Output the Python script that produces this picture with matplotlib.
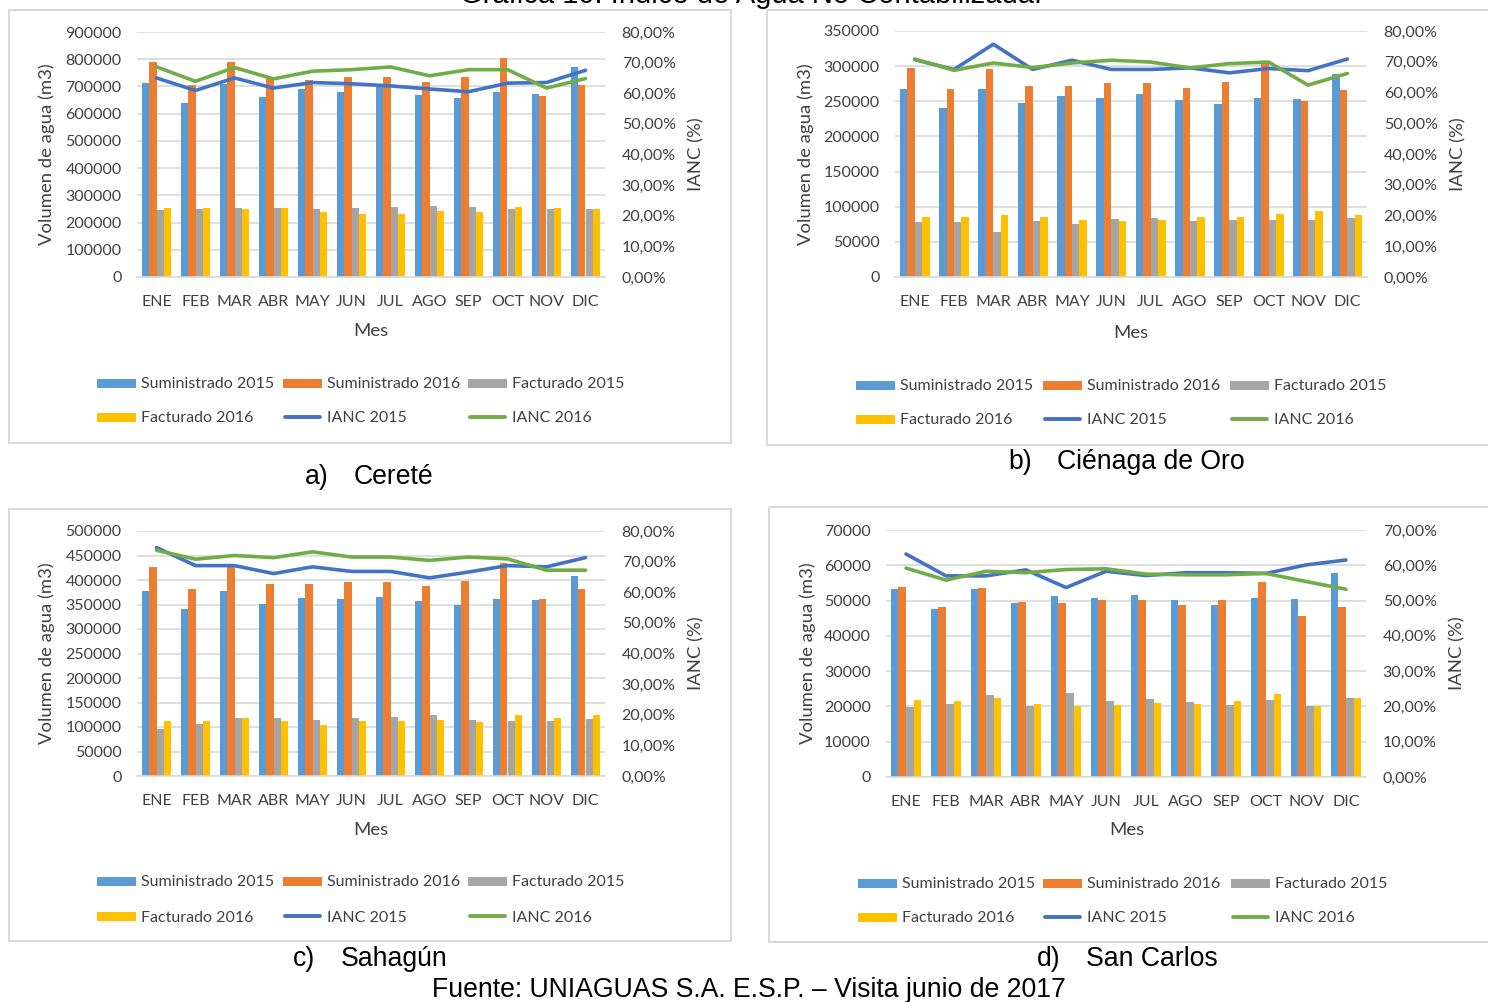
import matplotlib
matplotlib.use("Agg")
import matplotlib.pyplot as plt
from matplotlib.patches import Rectangle
from matplotlib.lines import Line2D
from matplotlib.ticker import MultipleLocator, FuncFormatter
import numpy as np

W, H = 1488, 1002

months = ["ENE", "FEB", "MAR", "ABR", "MAY", "JUN", "JUL", "AGO", "SEP", "OCT", "NOV", "DIC"]
legend_labels = ["Suministrado 2015", "Suministrado 2016", "Facturado 2015",
                 "Facturado 2016", "IANC 2015", "IANC 2016"]

# a) Cereté
cerete_sum_2015 = [712000, 638000, 710000, 660000, 690000, 681000, 697000, 669000, 656000, 678000, 673000, 770000]
cerete_sum_2016 = [788000, 706000, 788000, 727000, 724000, 733000, 734000, 717000, 734000, 805000, 666000, 706000]
cerete_fac_2015 = [245000, 248000, 252000, 255000, 248000, 252000, 258000, 262000, 258000, 250000, 248000, 250000]
cerete_fac_2016 = [252000, 255000, 248000, 255000, 238000, 233000, 231000, 244000, 238000, 258000, 255000, 248000]
cerete_ianc_2015 = [65.0, 60.9, 65.0, 61.7, 63.5, 63.1, 62.4, 61.4, 60.5, 63.3, 63.5, 67.5]
cerete_ianc_2016 = [68.6, 63.9, 68.4, 64.7, 67.2, 67.7, 68.6, 65.7, 67.7, 67.7, 61.7, 64.8]

# b) Ciénaga de Oro
cienaga_sum_2015 = [266800, 240800, 268000, 247400, 257300, 254000, 260000, 251700, 246000, 254000, 253000, 288500]
cienaga_sum_2016 = [297000, 266800, 295600, 272000, 272000, 276000, 276000, 269600, 277700, 305000, 250200, 265800]
cienaga_fac_2015 = [77600, 77600, 64300, 79500, 75200, 82300, 83300, 79500, 81800, 80400, 81800, 83300]
cienaga_fac_2016 = [84700, 86000, 88500, 86000, 81800, 79500, 81800, 84700, 84700, 90300, 93200, 88500]
cienaga_ianc_2015 = [70.7, 67.5, 75.7, 67.5, 70.5, 67.5, 67.5, 68.0, 66.4, 67.8, 67.1, 70.9]
cienaga_ianc_2016 = [70.9, 67.2, 69.6, 68.1, 69.6, 70.5, 69.9, 68.0, 69.4, 69.9, 62.4, 66.2]

# c) Sahagún
sahagun_sum_2015 = [377700, 340400, 377700, 350500, 364000, 360700, 366000, 356700, 348500, 360700, 358700, 409000]
sahagun_sum_2016 = [426600, 381800, 426600, 391300, 391300, 395400, 395400, 387200, 397400, 434800, 360700, 381100]
sahagun_fac_2015 = [95000, 106700, 118900, 118900, 114800, 118900, 120200, 124300, 114800, 112100, 112800, 116800]
sahagun_fac_2016 = [112800, 111400, 118900, 111400, 104600, 112800, 112800, 114100, 110700, 124300, 118200, 124300]
sahagun_ianc_2015 = [74.6, 68.7, 68.7, 66.1, 68.3, 66.8, 66.8, 64.7, 66.6, 68.7, 68.3, 71.3]
sahagun_ianc_2016 = [73.7, 70.8, 72.0, 71.3, 73.2, 71.5, 71.5, 70.4, 71.5, 70.9, 67.2, 67.2]

# d) San Carlos
sancarlos_sum_2015 = [53200, 47700, 53200, 49300, 51300, 50700, 51500, 50100, 48800, 50700, 50400, 57700]
sancarlos_sum_2016 = [53900, 48200, 53700, 49600, 49300, 50100, 50100, 48800, 50100, 55200, 45600, 48200]
sancarlos_fac_2015 = [19700, 20800, 23100, 20200, 23700, 21400, 22200, 21200, 20500, 21700, 20200, 22500]
sancarlos_fac_2016 = [21900, 21400, 22500, 20800, 20200, 20500, 21100, 20800, 21400, 23400, 20200, 22500]
sancarlos_ianc_2015 = [63.2, 57.0, 57.0, 58.7, 53.7, 58.3, 57.1, 57.9, 57.9, 57.7, 60.1, 61.5]
sancarlos_ianc_2016 = [59.2, 55.8, 58.3, 57.9, 58.8, 59.0, 57.5, 57.3, 57.3, 57.7, 55.4, 53.2]

C_BLUE, C_ORANGE, C_GRAY, C_YELLOW = "#5B9BD5", "#ED7D31", "#A5A5A5", "#FFC000"
C_L15, C_L16 = "#4472C4", "#70AD47"
TXT = "#404040"
GRID = "#D9D9D9"
CHART_FONT = "Lato"
CAP_FONT = "Liberation Sans"
FS = 11.5
FS_TITLE = 13.3
FS_CAP = 19.2

fig = plt.figure(figsize=(W / 100, H / 100), dpi=100)


def add_ax(l, t, r, b):
    return fig.add_axes([l / W, 1 - b / H, (r - l) / W, (b - t) / H])


panels = [
    dict(data=(cerete_sum_2015, cerete_sum_2016, cerete_fac_2015, cerete_fac_2016, cerete_ianc_2015, cerete_ianc_2016),
         ax=(137, 32, 605, 277), ymax=900000, ystep=100000, rmax=80,
         box=(8.5, 10, 731, 443), ylab_x=47, ilab_x=696, mes=(371, 331),
         leg_x=(97, 283, 468), leg_y=(383, 417)),
    dict(data=(cienaga_sum_2015, cienaga_sum_2016, cienaga_fac_2015, cienaga_fac_2016, cienaga_ianc_2015, cienaga_ianc_2016),
         ax=(895, 31, 1367, 277), ymax=350000, ystep=50000, rmax=80,
         box=(767, 10, 1495, 445), ylab_x=806, ilab_x=1458, mes=(1131, 333),
         leg_x=(856, 1043, 1230), leg_y=(385, 419)),
    dict(data=(sahagun_sum_2015, sahagun_sum_2016, sahagun_fac_2015, sahagun_fac_2016, sahagun_ianc_2015, sahagun_ianc_2016),
         ax=(137, 531, 605, 776), ymax=500000, ystep=50000, rmax=80,
         box=(8.5, 509, 731, 941), ylab_x=47, ilab_x=696, mes=(371, 830),
         leg_x=(97, 283, 468), leg_y=(881, 916)),
    dict(data=(sancarlos_sum_2015, sancarlos_sum_2016, sancarlos_fac_2015, sancarlos_fac_2016, sancarlos_ianc_2015, sancarlos_ianc_2016),
         ax=(886, 530, 1366, 777), ymax=70000, ystep=10000, rmax=70,
         box=(769, 507, 1495, 942), ylab_x=808, ilab_x=1457, mes=(1127, 830),
         leg_x=(858, 1043, 1231), leg_y=(883, 917)),
]

pct_fmt = FuncFormatter(lambda v, _: f"{v:.2f}%".replace(".", ","))

for p in panels:
    s15, s16, f15, f16, i15, i16 = p["data"]
    l, t, r, b = p["ax"]
    ax = add_ax(l, t, r, b)
    x = np.arange(len(months))
    bw = 0.19
    for k, (vals, col) in enumerate(zip((s15, s16, f15, f16), (C_BLUE, C_ORANGE, C_GRAY, C_YELLOW))):
        ax.bar(x + (k - 1.5) * bw, vals, width=bw, color=col, zorder=2)
    ax.set_xlim(-0.5, len(months) - 0.5)
    ax.set_ylim(0, p["ymax"])
    ax.yaxis.set_major_locator(MultipleLocator(p["ystep"]))
    ax.yaxis.set_major_formatter(FuncFormatter(lambda v, _: f"{int(round(v))}"))
    ax.set_xticks(x)
    ax.set_xticklabels(months)
    ax.set_axisbelow(True)
    ax.yaxis.grid(True, color=GRID, lw=1.2)
    for sp in ("top", "left", "right"):
        ax.spines[sp].set_visible(False)
    ax.spines["bottom"].set_color(GRID)
    ax.spines["bottom"].set_linewidth(1.2)
    ax.tick_params(axis="both", length=0, labelcolor=TXT, labelsize=FS)
    ax.tick_params(axis="y", pad=11)
    ax.tick_params(axis="x", pad=13)
    for lab in ax.get_xticklabels() + ax.get_yticklabels():
        lab.set_fontfamily(CHART_FONT)

    ax2 = ax.twinx()
    ax2.plot(x, i15, color=C_L15, lw=2.6, solid_capstyle="round", solid_joinstyle="round", zorder=3)
    ax2.plot(x, i16, color=C_L16, lw=2.6, solid_capstyle="round", solid_joinstyle="round", zorder=3)
    ax2.set_ylim(0, p["rmax"])
    ax2.yaxis.set_major_locator(MultipleLocator(10))
    ax2.yaxis.set_major_formatter(pct_fmt)
    for sp in ax2.spines.values():
        sp.set_visible(False)
    ax2.tick_params(axis="y", length=0, labelcolor=TXT, labelsize=FS, pad=12)
    for lab in ax2.get_yticklabels():
        lab.set_fontfamily(CHART_FONT)

# overlay in pixel coordinates
ov = fig.add_axes([0, 0, 1, 1])
ov.set_xlim(0, W)
ov.set_ylim(H, 0)
ov.axis("off")
ov.patch.set_alpha(0)

for p in panels:
    bl, bt, br, bb = p["box"]
    ov.add_patch(Rectangle((bl, bt), br - bl, bb - bt, fill=False, ec=GRID, lw=1.5))
    cy = (p["ax"][1] + p["ax"][3]) / 2
    ov.text(p["ylab_x"], cy, "Volumen de agua (m3)", rotation=90, ha="center", va="center",
            fontsize=FS_TITLE, color=TXT, family=CHART_FONT)
    ov.text(p["ilab_x"], cy, "IANC (%)", rotation=90, ha="center", va="center",
            fontsize=FS_TITLE, color=TXT, family=CHART_FONT)
    ov.text(p["mes"][0], p["mes"][1], "Mes", ha="center", va="center",
            fontsize=FS_TITLE, color=TXT, family=CHART_FONT)
    handles = [("bar", C_BLUE), ("bar", C_ORANGE), ("bar", C_GRAY),
               ("bar", C_YELLOW), ("line", C_L15), ("line", C_L16)]
    for i, (lab, (kind, col)) in enumerate(zip(legend_labels, handles)):
        hx = p["leg_x"][i % 3]
        hy = p["leg_y"][i // 3]
        if kind == "bar":
            ov.add_patch(Rectangle((hx, hy - 4.5), 39, 9, color=col, lw=0))
        else:
            ov.add_line(Line2D([hx + 2, hx + 37], [hy, hy], color=col, lw=2.8, solid_capstyle="round"))
        ov.text(hx + 44, hy + 1.5, lab, ha="left", va="center", fontsize=FS, color=TXT, family=CHART_FONT)

captions = [("a)", 305, "Cereté", 354, 477), ("b)", 1008, "Ciénaga de Oro", 1057, 462),
            ("c)", 293, "Sahagún", 341, 959), ("d)", 1037, "San Carlos", 1086, 959)]
for let, lx, name, nx, cy in captions:
    ov.text(lx, cy, let, ha="left", va="center", fontsize=FS_CAP, color="black", family=CAP_FONT)
    ov.text(nx, cy, name, ha="left", va="center", fontsize=FS_CAP, color="black", family=CAP_FONT)

ov.text(749, 990, "Fuente: UNIAGUAS S.A. E.S.P. – Visita junio de 2017", ha="center", va="center",
        fontsize=FS_CAP, color="black", family=CAP_FONT)
ov.text(751, 2.5, "Gráfica 10. Índice de Agua No Contabilizada.", ha="center", va="baseline",
        fontsize=21, color="black", family=CAP_FONT)

fig.savefig("out.png", dpi=100, facecolor="white")
